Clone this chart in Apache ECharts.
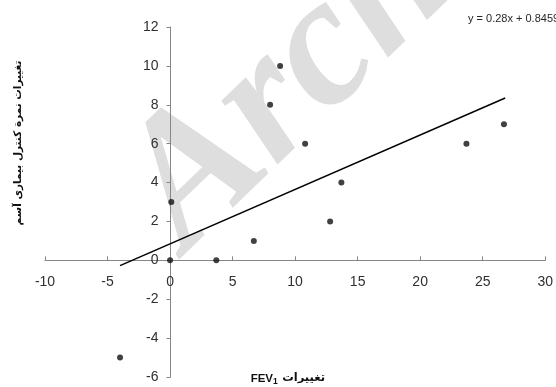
<!DOCTYPE html>
<html>
<head>
<meta charset="utf-8">
<script src="https://cdn.jsdelivr.net/npm/echarts@6/dist/echarts.min.js"></script>
<style>html,body{margin:0;padding:0;background:#fff}#c{width:556px;height:387px}</style>
</head>
<body>
<div id="c"></div>
<script>
var fevChange = [-4, 0, 0.1, 3.7, 6.7, 8, 8.8, 10.8, 12.8, 13.7, 23.7, 26.7];
var scoreChange = [-5, 0, 3, 0, 1, 8, 10, 6, 2, 4, 6, 7];
var trendX = [-4, 26.8];
var trendY = [-0.27, 8.35];
var xTicks = {min: -10, max: 30, interval: 5};
var yTicks = {min: -6, max: 12, interval: 2};
var equationText = 'y = 0.28x + 0.8459';
var yTitle = 'تغییرات نمرة کنترل بیماری آسم';
var xTitleWord = 'تغییرات';
var xTitleVar = 'FEV';
var xTitleSub = '1';
var watermark = 'Archive';

var pts = fevChange.map(function (x, i) { return [x, scoreChange[i]]; });
var trend = trendX.map(function (x, i) { return [x, trendY[i]]; });

var W = 556, H = 387;
var G = {left: 45, right: 9, top: 27, bottom: 10};
var gw = W - G.left - G.right, gh = H - G.top - G.bottom;
// shift axes so they cross at zero (labels follow the line)
var yAxisOffset = -gw * (0 - xTicks.min) / (xTicks.max - xTicks.min);
var xAxisOffset = -gh * (0 - yTicks.min) / (yTicks.max - yTicks.min);

var chart = echarts.init(document.getElementById('c'), null, {renderer: 'canvas'});
var axisFont = {fontFamily: 'Liberation Sans', fontSize: 14, color: '#303030'};
var dark = '#111';
chart.setOption({
  animation: false,
  grid: {left: G.left, right: G.right, top: G.top, bottom: G.bottom, containLabel: false},
  xAxis: {
    type: 'value', min: xTicks.min, max: xTicks.max, interval: xTicks.interval,
    position: 'bottom', offset: xAxisOffset,
    splitLine: {show: false},
    axisLine: {onZero: false, lineStyle: {color: '#868686', width: 1}},
    axisTick: {inside: true, length: 4, lineStyle: {color: '#868686'}},
    axisLabel: Object.assign({margin: 15, showMinLabel: true, showMaxLabel: true}, axisFont)
  },
  yAxis: {
    type: 'value', min: yTicks.min, max: yTicks.max, interval: yTicks.interval,
    position: 'left', offset: yAxisOffset,
    splitLine: {show: false},
    axisLine: {onZero: false, lineStyle: {color: '#868686', width: 1}},
    axisTick: {length: 4, lineStyle: {color: '#868686'}},
    axisLabel: Object.assign({margin: 12, showMinLabel: true, showMaxLabel: true}, axisFont)
  },
  graphic: [
    {
      type: 'text', z: -10, silent: true,
      x: 217, y: 285, rotation: 44 * Math.PI / 180,
      style: {
        text: watermark, fill: '#dedede',
        font: 'italic bold 185px "Liberation Serif"',
        textAlign: 'left', textVerticalAlign: 'bottom'
      }
    },
    {
      type: 'text', x: 468, y: 19,
      style: {text: equationText, fill: '#262626', font: '11px "Liberation Sans"', textVerticalAlign: 'middle'}
    },
    {
      type: 'text', x: 18, y: 143, rotation: Math.PI / 2,
      style: {text: yTitle, fill: dark, font: 'bold 10.5px "DejaVu Sans"', textAlign: 'center', textVerticalAlign: 'middle'}
    },
    {
      type: 'text', x: 273, y: 379,
      style: {text: xTitleVar, fill: dark, font: 'bold 11.5px "Liberation Sans"', textAlign: 'right', textVerticalAlign: 'middle'}
    },
    {
      type: 'text', x: 273, y: 382,
      style: {text: xTitleSub, fill: dark, font: 'bold 8.5px "Liberation Sans"', textAlign: 'left', textVerticalAlign: 'middle'}
    },
    {
      type: 'text', x: 325, y: 378,
      style: {text: xTitleWord, fill: dark, font: 'bold 11.5px "DejaVu Sans"', textAlign: 'right', textVerticalAlign: 'middle'}
    }
  ],
  series: [
    {
      type: 'line', data: trend, symbol: 'none', silent: true,
      lineStyle: {color: '#000', width: 1.5}, z: 3
    },
    {
      type: 'scatter', data: pts, symbol: 'circle', symbolSize: 6,
      itemStyle: {color: '#111'}, z: 4
    }
  ]
});
</script>
</body>
</html>
